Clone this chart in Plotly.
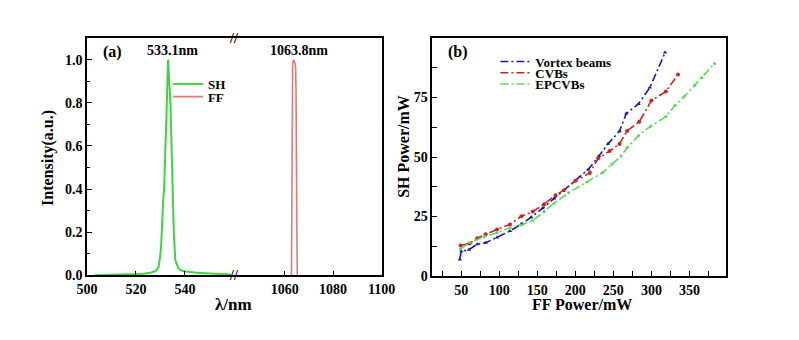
import plotly.graph_objects as go

W, H = 799, 340


def fx(p):
    return p / W


def fy(p):
    return 1 - p / H


FONT = "Liberation Serif"

# ---------------- Panel (a) data ----------------
sh_wl = [503, 508, 512, 516, 520, 523, 526, 528, 529.3, 530.2, 530.6, 530.9, 531.2, 531.5,
         532.0, 532.5, 533.1, 533.5, 534.1, 534.8, 535.5, 536.1, 537.4, 539, 541, 544, 548,
         552, 556, 559]
sh_int = [0.0, 0.001, 0.002, 0.004, 0.006, 0.008, 0.012, 0.02, 0.04, 0.12, 0.25, 0.33, 0.36,
          0.40, 0.55, 0.75, 1.0, 0.92, 0.80, 0.49, 0.19, 0.07, 0.03, 0.02, 0.016, 0.013, 0.01,
          0.007, 0.005, 0.004]

ff_wl = [1062.8, 1062.95, 1063.1, 1063.3, 1063.6, 1063.9, 1064.2, 1064.5, 1064.7, 1064.9,
         1065.05, 1065.2]
ff_int = [0.0, 0.40, 0.85, 0.98, 1.0, 0.995, 0.985, 0.97, 0.85, 0.45, 0.10, 0.0]

a_left_ticks = [500, 520, 540]
a_right_ticks = [1060, 1080, 1100]
a_y_ticks = [0.0, 0.2, 0.4, 0.6, 0.8, 1.0]

# ---------------- Panel (b) data ----------------
vortex_ff = [48, 50, 60, 71, 82, 97, 114, 129, 142, 157, 172, 200, 217, 231, 243, 258, 267,
             283, 298, 318]
vortex_sh = [7.0, 10.4, 11.1, 13.4, 14.0, 16.2, 18.9, 21.9, 24.7, 28.5, 32.6, 39.9, 44.8,
             50.4, 55.6, 60.8, 68.3, 72.3, 79.2, 93.9]

cvb_ff = [49, 61, 71, 82, 97, 114, 129, 144, 159, 174, 185, 200, 219, 230, 245, 258, 268,
          284, 300, 319, 335]
cvb_sh = [12.8, 13.7, 15.9, 17.6, 19.6, 21.7, 25.1, 27.1, 30.2, 34.0, 36.1, 40.0, 43.3, 49.5,
          52.5, 55.5, 61.0, 64.8, 73.8, 77.5, 84.7]

epcvb_ff = [49, 61, 80, 97, 114, 129, 144, 159, 172, 191, 215, 236, 248, 260, 268, 283, 299,
            319, 331, 343, 357, 366, 383]
epcvb_sh = [11.4, 14.1, 16.5, 18.2, 20.3, 21.5, 23.3, 27.1, 30.6, 35.0, 39.5, 43.5, 47.0,
            50.4, 53.9, 59.0, 63.0, 67.0, 71.7, 75.4, 80.2, 83.3, 89.3]

b_x_ticks = [50, 100, 150, 200, 250, 300, 350]
b_x_minor = [25, 75, 125, 175, 225, 275, 325, 375]
b_y_ticks = [0, 25, 50, 75]
b_y_minor = [12.5, 37.5, 62.5, 87.5]

GREEN_A = "#3ed63e"
RED_A = "#e07a7a"
BLUE_B = "#1c1ca6"
RED_B = "#d02222"
GREEN_B = "#55dd55"
DASHDOT = "8px,3px,2px,3px"

fig = go.Figure()

fig.add_trace(go.Scatter(x=sh_wl, y=sh_int, mode="lines", name="SH",
                         line=dict(color=GREEN_A, width=2), xaxis="x", yaxis="y",
                         legend="legend"))
fig.add_trace(go.Scatter(x=ff_wl, y=ff_int, mode="lines", name="FF",
                         line=dict(color=RED_A, width=1.6), xaxis="x2", yaxis="y2",
                         legend="legend2"))

series_b = [
    ("Vortex beams", vortex_ff, vortex_sh, BLUE_B, "triangle-up", 4, "legend3"),
    ("CVBs", cvb_ff, cvb_sh, RED_B, "circle", 4, "legend4"),
    ("EPCVBs", epcvb_ff, epcvb_sh, GREEN_B, "circle", 3, "legend5"),
]
for name, xs, ys, col, sym, sz, lg in series_b:
    fig.add_trace(go.Scatter(x=xs, y=ys, mode="lines", name=name,
                             line=dict(color=col, width=1.6, dash=DASHDOT),
                             xaxis="x3", yaxis="y3", legend=lg))
    fig.add_trace(go.Scatter(x=xs, y=ys, mode="markers", name=name, showlegend=False,
                             marker=dict(symbol=sym, size=sz, color=col),
                             xaxis="x3", yaxis="y3"))

tickfont = dict(family=FONT, size=14, color="black", weight="bold")
axis_common = dict(showline=True, linecolor="black", linewidth=1.6, ticks="inside",
                   ticklen=5, tickwidth=1.2, tickcolor="black", showgrid=False,
                   zeroline=False, tickfont=tickfont)

ya_dom = [fy(282), fy(39)]
fig.update_layout(
    width=W, height=H, autosize=False,
    margin=dict(l=0, r=0, t=0, b=0),
    paper_bgcolor="white", plot_bgcolor="white",
    showlegend=True,
    xaxis=dict(domain=[fx(78.5), fx(230)], range=[500, 560], tickvals=a_left_ticks,
               anchor="y", mirror=True, **axis_common),
    xaxis2=dict(domain=[fx(230), fx(382.5)], range=[1039, 1100], tickvals=a_right_ticks,
                anchor="y2", mirror=True, **axis_common),
    yaxis=dict(domain=ya_dom, range=[0, 1.1], tickvals=a_y_ticks, tickformat=".1f",
               anchor="x", minor=dict(dtick=0.1, ticks="inside", ticklen=3,
                                      tickcolor="black"),
               **axis_common),
    yaxis2=dict(domain=ya_dom, range=[0, 1.1], anchor="x2", side="right", matches="y",
                showticklabels=False, showline=True, linecolor="black", linewidth=1.6,
                ticks="", showgrid=False, zeroline=False),
    xaxis3=dict(domain=[fx(435), fx(738)], range=[12, 398], tickvals=b_x_ticks,
                anchor="y3", mirror=True,
                minor=dict(tickvals=b_x_minor, ticks="inside", ticklen=5,
                           tickcolor="black"),
                **axis_common),
    yaxis3=dict(domain=[fy(282.7), fy(39)], range=[0, 100], tickvals=b_y_ticks,
                anchor="x3", mirror=True,
                minor=dict(tickvals=b_y_minor, ticks="inside", ticklen=5,
                           tickcolor="black"),
                **axis_common),
)

leg_font = dict(family=FONT, size=13, color="black", weight="bold")


def leg(xp, yp):
    return dict(x=fx(xp), y=fy(yp), xanchor="left", yanchor="middle",
                bgcolor="rgba(0,0,0,0)", borderwidth=0, font=leg_font,
                itemwidth=30, tracegroupgap=0)


fig.update_layout(
    legend=leg(162, 86),
    legend2=leg(162, 99),
    legend3=leg(500, 63),
    legend4=leg(500, 74.5),
    legend5=leg(500, 86),
)

ann_font = dict(family=FONT, size=14, color="black", weight="bold")
title_font = dict(family=FONT, size=16, color="black", weight="bold")
annotations = [
    dict(text="(a)", x=fx(105), y=fy(53), font=title_font),
    dict(text="533.1nm", x=fx(167), y=fy(52), font=ann_font),
    dict(text="1063.8nm", x=fx(297), y=fy(52), font=ann_font),
    dict(text="(b)", x=fx(461), y=fy(53), font=title_font),
    dict(text="λ/nm", x=fx(230), y=fy(312), font=dict(family=FONT, size=17, color="black",
                                                       weight="bold")),
    dict(text="FF Power/mW", x=fx(589), y=fy(312), font=title_font),
    dict(text="Intensity(a.u.)", x=fx(38), y=fy(162), textangle=-90, font=title_font),
    dict(text="SH Power/mW", x=fx(405), y=fy(150), textangle=-90, font=title_font),
    dict(text="//", x=fx(230), y=fy(39), font=dict(family=FONT, size=14, color="black",
                                                    weight="bold")),
    dict(text="//", x=fx(230), y=fy(282), font=dict(family=FONT, size=14, color="black",
                                                     weight="bold")),
]
for a in annotations:
    a.update(xref="paper", yref="paper", showarrow=False, xanchor="center",
             yanchor="middle")
fig.update_layout(annotations=annotations)

fig.write_html("out.html")
